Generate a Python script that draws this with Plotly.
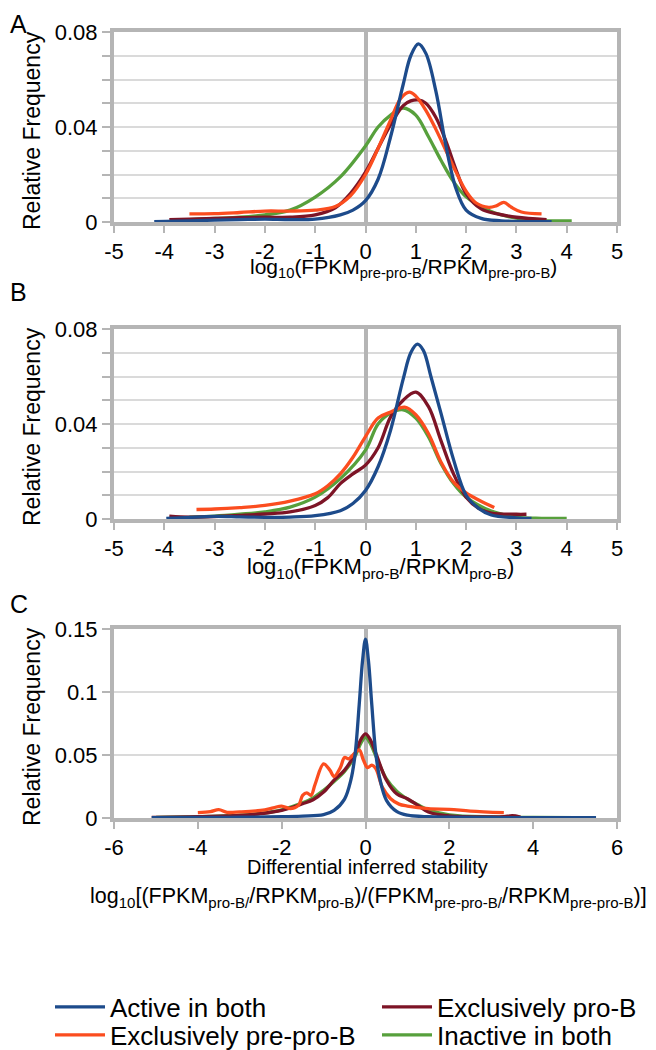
import plotly.graph_objects as go

# ---------------- data ----------------
series_names = ["Active in both", "Exclusively pro-B", "Exclusively pre-pro-B", "Inactive in both"]
colors = {"Active in both": "#1d4b8b", "Exclusively pro-B": "#7d1426",
          "Exclusively pre-pro-B": "#fb4d1f", "Inactive in both": "#57a03c"}

# Panel A
a_active_x = [-4.2, -3.5, -3, -2.5, -2, -1.5, -1, -0.5, -0.25, 0, 0.25, 0.5, 0.75, 0.9, 1.05, 1.2, 1.4, 1.6, 1.8, 2.0, 2.3, 2.7, 3.2, 3.7]
a_active_y = [0.0002, 0.0005, 0.0008, 0.001, 0.0012, 0.001, 0.0012, 0.003, 0.005, 0.009, 0.018, 0.036, 0.058, 0.070, 0.075, 0.071, 0.055, 0.032, 0.014, 0.005, 0.0015, 0.0005, 0.0002, 0.0001]
a_prepro_x = [-3.5, -3, -2.5, -2, -1.5, -1, -0.6, -0.3, 0, 0.25, 0.5, 0.7, 0.87, 1.0, 1.2, 1.4, 1.6, 1.8, 2.0, 2.2, 2.45, 2.6, 2.75, 2.9, 3.1, 3.5]
a_prepro_y = [0.0034, 0.0035, 0.004, 0.0046, 0.0046, 0.005, 0.0065, 0.011, 0.02, 0.031, 0.043, 0.052, 0.0547, 0.053, 0.047, 0.039, 0.030, 0.021, 0.013, 0.008, 0.0062, 0.0068, 0.0083, 0.0062, 0.0042, 0.0034]
a_pro_x = [-3.9, -3.5, -3, -2.5, -2, -1.5, -1, -0.6, -0.3, 0, 0.25, 0.5, 0.75, 0.9, 1.05, 1.2, 1.4, 1.6, 1.8, 2.0, 2.3, 2.6, 3.0, 3.6]
a_pro_y = [0.001, 0.0012, 0.0015, 0.0018, 0.002, 0.002, 0.003, 0.006, 0.012, 0.021, 0.031, 0.041, 0.049, 0.051, 0.0514, 0.050, 0.044, 0.034, 0.022, 0.012, 0.0055, 0.0035, 0.002, 0.001]
a_inactive_x = [-3.5, -3, -2.5, -2, -1.5, -1, -0.5, 0, 0.25, 0.5, 0.75, 1.0, 1.25, 1.5, 1.75, 2.0, 2.5, 3.0, 3.5, 4.1]
a_inactive_y = [0.001, 0.0015, 0.002, 0.003, 0.005, 0.0105, 0.019, 0.032, 0.040, 0.045, 0.048, 0.045, 0.036, 0.026, 0.017, 0.0106, 0.0044, 0.0016, 0.0006, 0.0005]

# Panel B
b_active_x = [-3.96, -3.5, -3, -2.5, -2, -1.5, -1, -0.5, -0.25, 0, 0.25, 0.5, 0.75, 0.9, 1.03, 1.15, 1.3, 1.5, 1.75, 2.0, 2.25, 2.5, 3.0, 3.3]
b_active_y = [0.0002, 0.0007, 0.0011, 0.0009, 0.0007, 0.0008, 0.0014, 0.0035, 0.0065, 0.012, 0.022, 0.0375, 0.059, 0.070, 0.0736, 0.071, 0.060, 0.0446, 0.025, 0.010, 0.0045, 0.0017, 0.0005, 0.0002]
b_prepro_x = [-3.36, -3, -2.5, -2, -1.5, -1, -0.75, -0.5, -0.25, 0, 0.25, 0.5, 0.78, 1.0, 1.25, 1.5, 1.75, 2.0, 2.25, 2.56]
b_prepro_y = [0.004, 0.0042, 0.0048, 0.0057, 0.0075, 0.0106, 0.014, 0.019, 0.026, 0.0347, 0.0425, 0.045, 0.0471, 0.0439, 0.036, 0.024, 0.0155, 0.011, 0.008, 0.0048]
b_pro_x = [-3.9, -3.5, -3, -2.5, -2, -1.5, -1, -0.75, -0.5, -0.25, 0, 0.25, 0.5, 0.75, 1.0, 1.25, 1.5, 1.75, 2.0, 2.25, 2.5, 3.0, 3.2]
b_pro_y = [0.0012, 0.0008, 0.001, 0.0015, 0.0021, 0.003, 0.0057, 0.009, 0.0149, 0.019, 0.0227, 0.030, 0.043, 0.050, 0.0534, 0.0474, 0.033, 0.019, 0.0092, 0.0045, 0.0025, 0.002, 0.002]
b_inactive_x = [-3.5, -3, -2.5, -2, -1.5, -1, -0.5, 0, 0.25, 0.5, 0.75, 1.0, 1.25, 1.5, 1.75, 2.0, 2.5, 3.0, 3.5, 4.0]
b_inactive_y = [0.0008, 0.0012, 0.002, 0.003, 0.005, 0.0092, 0.017, 0.029, 0.040, 0.0446, 0.046, 0.0425, 0.0347, 0.0234, 0.0149, 0.0092, 0.0033, 0.0008, 0.0003, 0.0003]

# Panel C
c_active_x = [-5.1, -4, -3, -2, -1.5, -1, -0.75, -0.5, -0.35, -0.25, -0.15, -0.07, 0, 0.07, 0.15, 0.25, 0.35, 0.5, 0.75, 1, 1.5, 2, 3, 4, 5.5]
c_active_y = [0.0003, 0.0004, 0.0006, 0.001, 0.0015, 0.0026, 0.006, 0.015, 0.03, 0.05, 0.09, 0.125, 0.142, 0.125, 0.09, 0.05, 0.03, 0.014, 0.005, 0.0022, 0.001, 0.0007, 0.0004, 0.0003, 0.0003]
c_prepro_x = [-4.0, -3.7, -3.5, -3.3, -3.0, -2.5, -2.2, -2.0, -1.8, -1.6, -1.5, -1.4, -1.3, -1.2, -1.0, -0.85, -0.75, -0.6, -0.5, -0.4, -0.3, -0.15, -0.05, 0.05, 0.15, 0.25, 0.4, 0.6, 0.8, 1.0, 1.5, 2.0, 2.5, 3.3]
c_prepro_y = [0.0042, 0.005, 0.0066, 0.0045, 0.0048, 0.006, 0.008, 0.0095, 0.0074, 0.01, 0.018, 0.02, 0.018, 0.027, 0.043, 0.038, 0.033, 0.040, 0.048, 0.047, 0.05, 0.054, 0.046, 0.040, 0.042, 0.039, 0.0245, 0.0153, 0.011, 0.0095, 0.0074, 0.0069, 0.0055, 0.0042]
c_pro_x = [-5.1, -4, -3, -2.5, -2, -1.5, -1.25, -1, -0.75, -0.5, -0.25, -0.1, 0, 0.1, 0.25, 0.5, 0.75, 1.0, 1.25, 1.5, 2.0, 3.0, 3.3, 3.5, 3.7]
c_pro_y = [0.0005, 0.001, 0.002, 0.0034, 0.006, 0.0113, 0.0145, 0.0206, 0.030, 0.038, 0.051, 0.063, 0.0668, 0.063, 0.051, 0.030, 0.019, 0.0153, 0.010, 0.0048, 0.0016, 0.0008, 0.001, 0.0018, 0.0008]
c_inactive_x = [-5, -4, -3, -2.5, -2, -1.5, -1.25, -1, -0.75, -0.5, -0.25, -0.1, 0, 0.1, 0.25, 0.5, 0.75, 1.0, 1.25, 1.5, 2, 3, 4, 5]
c_inactive_y = [0.0005, 0.001, 0.0022, 0.0036, 0.0065, 0.012, 0.016, 0.022, 0.029, 0.037, 0.049, 0.060, 0.064, 0.060, 0.049, 0.031, 0.021, 0.015, 0.0105, 0.0065, 0.0025, 0.0008, 0.0005, 0.0003]

panels = [
    {"Inactive in both": (a_inactive_x, a_inactive_y), "Exclusively pro-B": (a_pro_x, a_pro_y),
     "Exclusively pre-pro-B": (a_prepro_x, a_prepro_y), "Active in both": (a_active_x, a_active_y)},
    {"Inactive in both": (b_inactive_x, b_inactive_y), "Exclusively pro-B": (b_pro_x, b_pro_y),
     "Exclusively pre-pro-B": (b_prepro_x, b_prepro_y), "Active in both": (b_active_x, b_active_y)},
    {"Inactive in both": (c_inactive_x, c_inactive_y), "Exclusively pro-B": (c_pro_x, c_pro_y),
     "Exclusively pre-pro-B": (c_prepro_x, c_prepro_y), "Active in both": (c_active_x, c_active_y)},
]

ab_yticks = [0, 0.04, 0.08]
ab_yticktext = ["0", "0.04", "0.08"]
c_yticks = [0, 0.05, 0.1, 0.15]
c_yticktext = ["0", "0.05", "0.1", "0.15"]
ab_xticks = [-5, -4, -3, -2, -1, 0, 1, 2, 3, 4, 5]
ab_xticktext = ["-5", "-4", "-3", "-2", "-1", "0", "1", "2", "3", "4", "5"]
c_xticks = [-6, -4, -2, 0, 2, 4, 6]
c_xticktext = ["-6", "-4", "-2", "0", "2", "4", "6"]

# ---------------- figure ----------------
# the page body has an 8px margin, so the figure is drawn 8px in from the window edge
OFF = 8
W, H = 656 - OFF, 1050 - OFF
FONT = "Liberation Sans, Arial, sans-serif"
FRAME = "#b5b5b5"
GRID = "#dadada"

def py(v):  # window pixel-from-top -> paper y
    return 1 - (v - OFF) / H

def px(v):  # window pixel-from-left -> paper x
    return (v - OFF) / W

# one legend box per entry (2 x 2 grid)
legend_of = {"Active in both": "legend", "Exclusively pro-B": "legend2",
             "Exclusively pre-pro-B": "legend3", "Inactive in both": "legend4"}
legend_pos = {"legend": (50, 1007), "legend2": (377, 1007),
              "legend3": (50, 1035), "legend4": (377, 1035)}

fig = go.Figure()
for i, panel in enumerate(panels):
    suffix = "" if i == 0 else str(i + 1)
    for name, (xs, ys) in panel.items():
        fig.add_trace(go.Scatter(
            x=xs, y=ys, mode="lines", name=name,
            line=dict(color=colors[name], width=3.3, shape="spline", smoothing=1.0),
            xaxis="x" + suffix, yaxis="y" + suffix,
            showlegend=(i == 0), legend=legend_of[name],
            hoverinfo="skip"))

ydoms = [(py(222), py(32)), (py(519), py(329)), (py(818), py(629))]
xdom = (px(114), px(617))

common_x = dict(showgrid=False, zeroline=True, zerolinecolor=FRAME, zerolinewidth=3.5,
                showline=True, mirror=True, linecolor=FRAME, linewidth=4,
                ticks="outside", ticklen=7, tickwidth=1.5, tickcolor=FRAME,
                tickfont=dict(family=FONT, size=22, color="black"),
                layer="below traces", automargin=False)
common_y = dict(showgrid=True, gridcolor=GRID, gridwidth=1.5, zeroline=False,
                showline=True, mirror=True, linecolor=FRAME, linewidth=4,
                ticks="outside", ticklen=8, tickwidth=1.5, tickcolor=FRAME,
                tickfont=dict(family=FONT, size=22, color="black"),
                layer="below traces", automargin=False)

layout = dict(width=W, height=H, margin=dict(l=0, r=0, t=0, b=0, autoexpand=False),
              paper_bgcolor="white", plot_bgcolor="white",
              font=dict(family=FONT, color="black"))
for i in range(3):
    suffix = "" if i == 0 else str(i + 1)
    if i < 2:
        xr, xt, xtt = [-5, 5], ab_xticks, ab_xticktext
        yr, yt, ytt = [0, 0.08], ab_yticks, ab_yticktext
        minor = dict(tickvals=[0.01, 0.02, 0.03, 0.05, 0.06, 0.07], ticks="outside", ticklen=8,
                     tickwidth=1.5, tickcolor=FRAME, showgrid=True, gridcolor=GRID, gridwidth=1.5)
    else:
        xr, xt, xtt = [-6, 6], c_xticks, c_xticktext
        yr, yt, ytt = [0, 0.15], c_yticks, c_yticktext
        minor = None
    layout["xaxis" + suffix] = dict(common_x, domain=xdom, range=xr, tickvals=xt, ticktext=xtt,
                                    anchor="y" + suffix)
    yax = dict(common_y, domain=ydoms[i], range=yr, tickvals=yt, ticktext=ytt, anchor="x" + suffix)
    if minor:
        yax["minor"] = minor
    layout["yaxis" + suffix] = yax

for key, (lx, ly) in legend_pos.items():
    layout[key] = dict(x=px(lx), y=py(ly), xanchor="left", yanchor="middle",
                       orientation="v", font=dict(family=FONT, size=26, color="black"),
                       itemwidth=50, tracegroupgap=0, bgcolor="rgba(0,0,0,0)")
fig.update_layout(**layout)

def note(text, x, y, size, angle=0, xa="center", ya="middle"):
    return dict(text=text, x=px(x), y=py(y), xref="paper", yref="paper",
                xanchor=xa, yanchor=ya, textangle=angle,
                showarrow=False, font=dict(family=FONT, size=size, color="black"))

ann = []
ann.append(note("A", OFF, OFF, 25, xa="left", ya="top"))
ann.append(note("B", OFF, 292, 25, xa="left"))
ann.append(note("C", OFF, 604, 25, xa="left"))
for yc in [131, 427, 727]:
    ann.append(note("Relative Frequency", 32, yc, 23, -90))
ann.append(note("log<sub>10</sub>(FPKM<sub>pre-pro-B</sub>/RPKM<sub>pre-pro-B</sub>)", 403, 268, 21))
ann.append(note("log<sub>10</sub>(FPKM<sub>pro-B</sub>/RPKM<sub>pro-B</sub>)", 380, 568, 22))
ann.append(note("Differential inferred stability", 367, 867, 20))
ann.append(note("log<sub>10</sub>[(FPKM<sub>pro-B/</sub>/RPKM<sub>pro-B</sub>)/(FPKM<sub>pre-pro-B/</sub>/RPKM<sub>pre-pro-B</sub>)]",
                368, 897, 21.5))
fig.update_layout(annotations=ann)

fig.write_html("out.html")
